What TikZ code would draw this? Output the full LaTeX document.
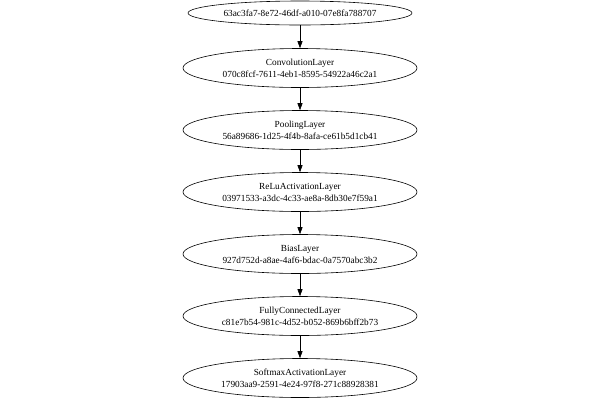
\documentclass[tikz,border=0pt]{standalone}
\usepackage{fontspec}
\setmainfont{Liberation Serif}
\usetikzlibrary{arrows.meta}
\usetikzlibrary{shapes.geometric}

\begin{document}
\begin{tikzpicture}[x=1pt,y=-1pt,line width=0.6pt,
  layer/.style={draw,ellipse,inner sep=0pt,minimum width=234pt,minimum height=39pt,align=center,font=\fontsize{9.3}{12}\selectfont},
  flow/.style={-{Triangle[length=7pt,width=5pt]}}]

\useasboundingbox (0,0) rectangle (600,400);

%\draw [very thick](0,0) rectangle (600,400);
\node[layer,minimum width=224pt,minimum height=24pt] (id) at (300,13) {63ac3fa7-8e72-46df-a010-07e8fa788707};
\node[layer] (conv) at (300,68) {ConvolutionLayer\\070c8fcf-7611-4eb1-8595-54922a46c2a1};
\node[layer] (pool) at (300,130) {PoolingLayer\\56a89686-1d25-4f4b-8afa-ce61b5d1cb41};
\node[layer] (relu) at (300,192) {ReLuActivationLayer\\03971533-a3dc-4c33-ae8a-8db30e7f59a1};
\node[layer] (bias) at (300,254) {BiasLayer\\927d752d-a8ae-4af6-bdac-0a7570abc3b2};
\node[layer] (fc) at (300,316) {FullyConnectedLayer\\c81e7b54-981c-4d52-b052-869b6bff2b73};
\node[layer] (soft) at (300,378) {SoftmaxActivationLayer\\17903aa9-2591-4e24-97f8-271c88928381};

\draw [flow](id)--(conv);
\draw [flow](conv)--(pool);
\draw [flow](pool)--(relu);
\draw [flow](relu)--(bias);
\draw [flow](bias)--(fc);
\draw [flow](fc)--(soft);

\end{tikzpicture}
\end{document}
